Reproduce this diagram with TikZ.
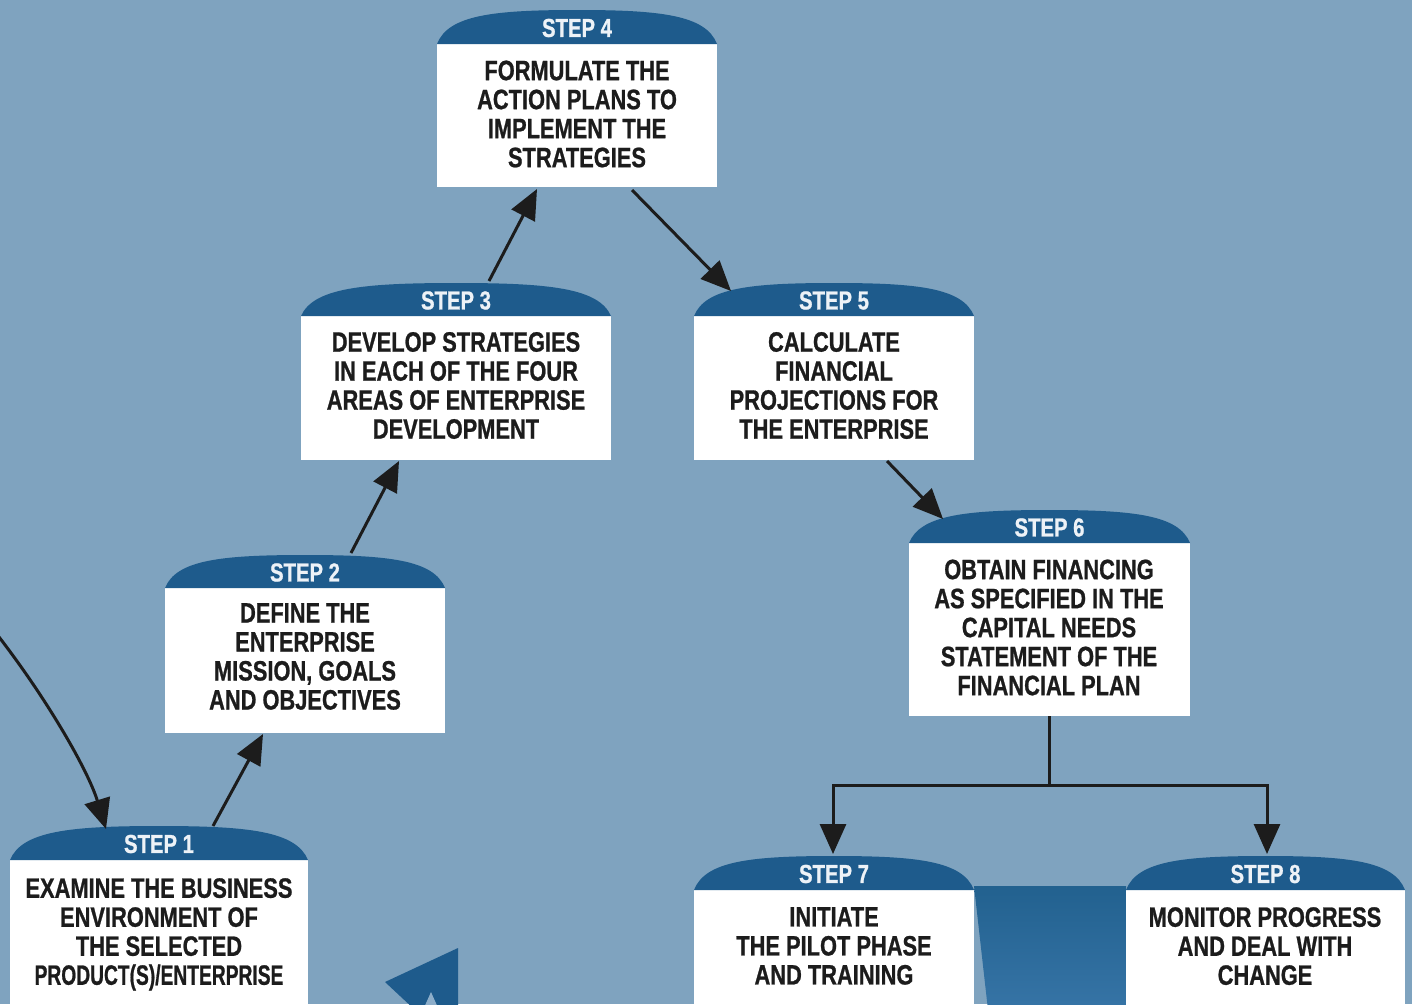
\documentclass[tikz,border=0pt]{standalone}
\usepackage{fontspec}
\usepackage{graphicx}
\setmainfont{Liberation Sans}[FakeStretch=0.78, BoldFeatures={FakeBold=0.8}]
\usetikzlibrary{arrows.meta}
\definecolor{bg}{HTML}{7FA3BF}
\definecolor{capblue}{HTML}{1E5B8C}
\definecolor{funneltop}{HTML}{22618F}
\definecolor{funnelbot}{HTML}{3674A6}
\definecolor{ink}{HTML}{1C1C1C}
\definecolor{captext}{HTML}{EDF2F7}
\definecolor{notch}{HTML}{8DAECA}
\newcommand\mkstep[8]{% name, x1, x2, cap top, box top, box height, label, width
  \node[whitebox, minimum width=#8pt, minimum height=#6pt, anchor=north west] (#1) at (#2,#5) {};
  \fill[capblue] (#2,#5) .. controls ({#2+0.04*(#3-#2)},{#5-0.85*(#5-#4)}) and ({#2+0.2*(#3-#2)},#4) .. ({(#2+#3)/2},#4)
     .. controls ({#3-0.2*(#3-#2)},#4) and ({#3-0.04*(#3-#2)},{#5-0.85*(#5-#4)}) .. (#3,#5) -- cycle;
  \node[captxt] (#1cap) at ({(#2+#3)/2},{(#4+#5)/2+1}) {#7};
}
\begin{document}
\begin{tikzpicture}[x=1pt,y=-1pt,
  whitebox/.style={fill=white, inner sep=0pt, outer sep=0pt},
  captxt/.style={text=captext, font=\fontsize{26}{26}\selectfont\bfseries, inner sep=0pt},
  bodytxt/.style={text=ink, align=center, font=\fontsize{28}{29}\selectfont\bfseries, inner sep=0pt},
  arr/.style={draw=ink, line width=3pt, -{Triangle[length=30pt,width=26pt]}},
  link/.style={draw=ink, line width=3pt}]
\useasboundingbox (0,0) rectangle (1412,1004);
\clip (0,0) rectangle (1412,1004);
\fill[bg] (0,0) rectangle (1412,1004);

% funnel between step 7 and step 8
\shade[top color=funneltop, bottom color=funnelbot] (974,886) -- (1126,886) -- (1126,1010) -- (988,1010) -- cycle;

% big arrow head at the bottom
\fill[capblue] (385,982) -- (458,948) -- (458,1010) -- (415,1010) -- cycle;
\fill[notch] (423,1010) -- (431,992) -- (439,1010) -- cycle;

\mkstep{s4}{437}{717}{10}{44}{143}{STEP 4}{280}
\mkstep{s3}{301}{611}{283}{316}{144}{STEP 3}{310}
\mkstep{s5}{694}{974}{283}{316}{144}{STEP 5}{280}
\mkstep{s2}{165}{445}{555}{588}{145}{STEP 2}{280}
\mkstep{s6}{909}{1190}{510}{543}{173}{STEP 6}{281}
\mkstep{s1}{10}{308}{826}{860}{160}{STEP 1}{298}
\mkstep{s7}{694}{974}{856}{890}{130}{STEP 7}{280}
\mkstep{s8}{1126}{1405}{856}{890}{130}{STEP 8}{279}

\node[bodytxt] (t4) at (577,114) {FORMULATE THE\\ACTION PLANS TO\\IMPLEMENT THE\\STRATEGIES};
\node[bodytxt] (t3) at (456,385.5) {DEVELOP STRATEGIES\\IN EACH OF THE FOUR\\AREAS OF ENTERPRISE\\DEVELOPMENT};
\node[bodytxt] (t5) at (834,385.5) {CALCULATE\\FINANCIAL\\PROJECTIONS FOR\\THE ENTERPRISE};
\node[bodytxt] (t2) at (305,656.5) {DEFINE THE\\ENTERPRISE\\MISSION, GOALS\\AND OBJECTIVES};
\node[bodytxt] (t6) at (1049,627.5) {OBTAIN FINANCING\\AS SPECIFIED IN THE\\CAPITAL NEEDS\\STATEMENT OF THE\\FINANCIAL PLAN};
\node[bodytxt, anchor=north] (t1) at (159,878) {EXAMINE THE BUSINESS\\ENVIRONMENT OF\\THE SELECTED\\\scalebox{0.88}[1]{PRODUCT(S)/ENTERPRISE}};
\node[bodytxt, anchor=north] (t7) at (834,907) {INITIATE\\THE PILOT PHASE\\AND TRAINING};
\node[bodytxt, anchor=north] (t8) at (1265,907) {MONITOR PROGRESS\\AND DEAL WITH\\CHANGE};

% connector end points
\coordinate (in0) at (-8,628);
\coordinate (e1a) at (106,829);
\coordinate (e1b) at (213,826);
\coordinate (e2a) at (263,734);
\coordinate (e2b) at (351,553);
\coordinate (e3a) at (399,461);
\coordinate (e3b) at (489,281);
\coordinate (e4a) at (537,189);
\coordinate (e4b) at (632,190);
\coordinate (e5a) at (731,291);
\coordinate (e5b) at (887,461);
\coordinate (e6a) at (943,519);
\coordinate (e6b) at (1049,716);
\coordinate (j6) at (1049,785);
\coordinate (j7) at (833,785);
\coordinate (j8) at (1267,785);
\coordinate (e7a) at (833,854);
\coordinate (e8a) at (1267,854);

\draw[arr] (in0) .. controls (45,695) and (88,770) .. (e1a);
\draw[arr] (e1b) -- (e2a);
\draw[arr] (e2b) -- (e3a);
\draw[arr] (e3b) -- (e4a);
\draw[arr] (e4b) -- (e5a);
\draw[arr] (e5b) -- (e6a);
\draw[link] (e6b) -- (j6);
\draw[link, line cap=rect] (j7) -- (j8);
\draw[arr] (j7) -- (e7a);
\draw[arr] (j8) -- (e8a);
\end{tikzpicture}
\end{document}
